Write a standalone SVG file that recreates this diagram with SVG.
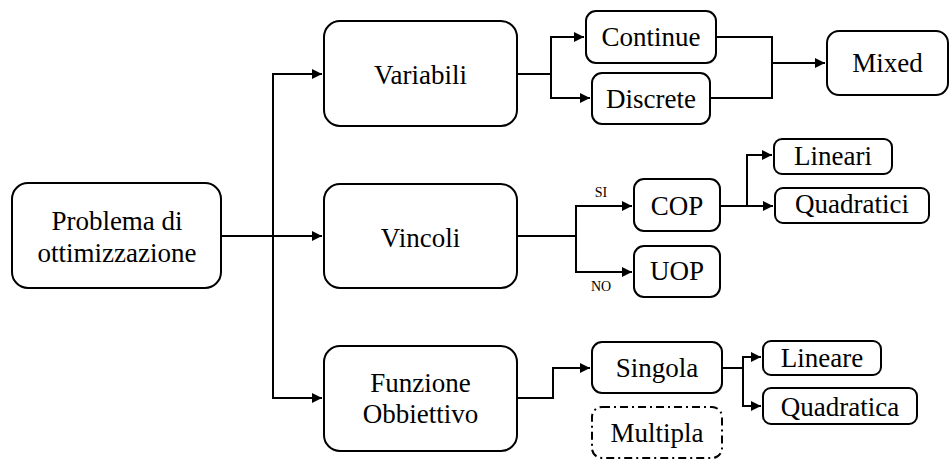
<svg xmlns="http://www.w3.org/2000/svg" width="951" height="459" viewBox="0 0 951 459" font-family="'Liberation Serif', 'Times New Roman', serif">
<defs>
<style>
.n{fill:#fff;stroke:#000;stroke-width:2}
.d{fill:#fff;stroke:#000;stroke-width:2;stroke-dasharray:8 4 2 4}
text{font-family:'Liberation Serif','Times New Roman',serif;font-size:27px;fill:#000;text-anchor:middle}
text.s{font-size:14px}
.c{fill:none;stroke:#000;stroke-width:2}
</style>
<marker id="a" viewBox="0 0 10 10" refX="10" refY="5" markerWidth="5" markerHeight="5" orient="auto" markerUnits="strokeWidth">
<path d="M0,0 L10,5 L0,10 z" fill="#000"/>
</marker>
</defs>
<rect width="951" height="459" fill="#fff"/>
<g id="connectors">
<path class="c" d="M221,236 H322" marker-end="url(#a)"/>
<path class="c" d="M273,236 V74 H322" marker-end="url(#a)"/>
<path class="c" d="M273,236 V398 H322" marker-end="url(#a)"/>
<path class="c" d="M517,74 H551"/>
<path class="c" d="M551,74 V37 H584" marker-end="url(#a)"/>
<path class="c" d="M551,74 V98 H590" marker-end="url(#a)"/>
<path class="c" d="M716,37 H772 V98 H710"/>
<path class="c" d="M772,63 H825" marker-end="url(#a)"/>
<path class="c" d="M517,236 H576"/>
<path class="c" d="M576,236 V206 H632" marker-end="url(#a)"/>
<path class="c" d="M576,236 V272 H632" marker-end="url(#a)"/>
<path class="c" d="M720,206 H773" marker-end="url(#a)"/>
<path class="c" d="M747,206 V155 H772" marker-end="url(#a)"/>
<path class="c" d="M517,398 H553 V368 H590" marker-end="url(#a)"/>
<path class="c" d="M722,368 H743"/>
<path class="c" d="M743,368 V357 H761" marker-end="url(#a)"/>
<path class="c" d="M743,368 V406 H761" marker-end="url(#a)"/>
<text class="s" x="601" y="197">SI</text>
<text class="s" x="601" y="291">NO</text>
</g>
<g id="problema"><rect class="n" x="12" y="183" width="209" height="105" rx="16"/><text x="117" y="230">Problema di</text><text x="117" y="262">ottimizzazione</text></g>
<g id="variabili"><rect class="n" x="324" y="21" width="193" height="105" rx="16"/><text x="420.5" y="84">Variabili</text></g>
<g id="vincoli"><rect class="n" x="324" y="184" width="193" height="104" rx="16"/><text x="420.5" y="247">Vincoli</text></g>
<g id="funzione"><rect class="n" x="324" y="346" width="193" height="105" rx="16"/><text x="420.5" y="392">Funzione</text><text x="420.5" y="423">Obbiettivo</text></g>
<g id="continue"><rect class="n" x="586" y="11" width="130" height="52" rx="10"/><text x="651" y="46">Continue</text></g>
<g id="discrete"><rect class="n" x="592" y="73" width="118" height="51" rx="10"/><text x="651" y="108">Discrete</text></g>
<g id="mixed"><rect class="n" x="827" y="31" width="121" height="64" rx="12"/><text x="887.5" y="72">Mixed</text></g>
<g id="cop"><rect class="n" x="634" y="179" width="86" height="52" rx="10"/><text x="677" y="215">COP</text></g>
<g id="uop"><rect class="n" x="634" y="246" width="86" height="51" rx="10"/><text x="677" y="280">UOP</text></g>
<g id="lineari"><rect class="n" x="774" y="139" width="118" height="35" rx="8"/><text x="833" y="165">Lineari</text></g>
<g id="quadratici"><rect class="n" x="775" y="188" width="154" height="35" rx="8"/><text x="852" y="213">Quadratici</text></g>
<g id="singola"><rect class="n" x="592" y="342" width="130" height="51" rx="10"/><text x="657" y="377">Singola</text></g>
<g id="multipla"><rect class="d" x="592" y="407" width="130" height="51" rx="10"/><text x="657" y="442">Multipla</text></g>
<g id="lineare"><rect class="n" x="763" y="341" width="118" height="34" rx="8"/><text x="822" y="367">Lineare</text></g>
<g id="quadratica"><rect class="n" x="763" y="388" width="154" height="36" rx="8"/><text x="840" y="416">Quadratica</text></g>
</svg>
